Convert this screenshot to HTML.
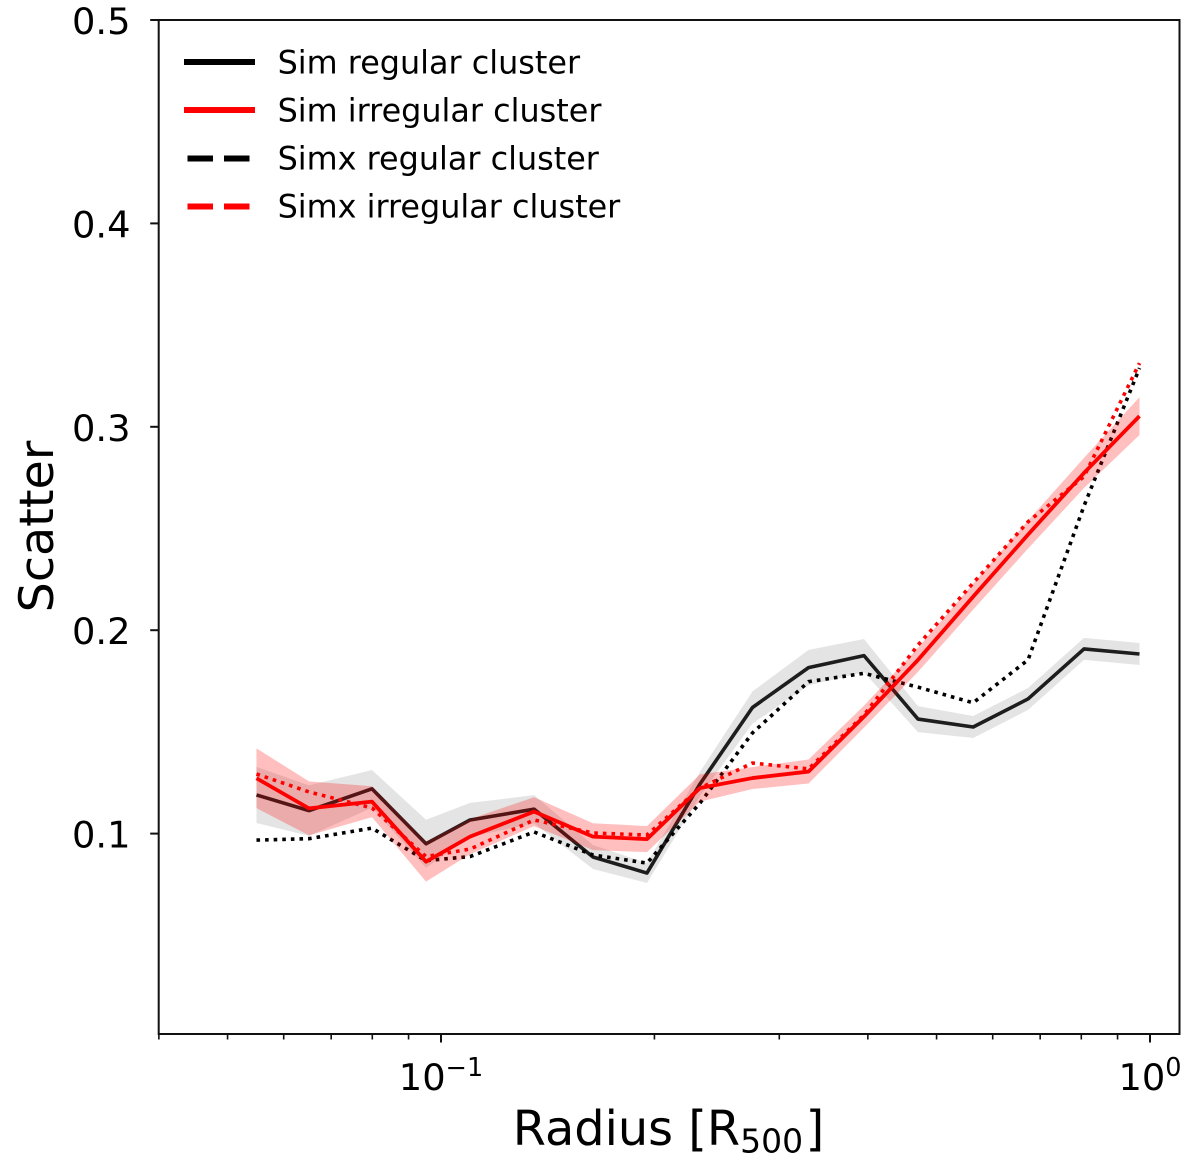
<!DOCTYPE html>
<html>
<head>
<meta charset="utf-8">
<style>
html,body{margin:0;padding:0;background:#fff;}
svg{display:block;font-family:"DejaVu Sans","Liberation Sans",sans-serif;}
</style>
</head>
<body>
<svg id="chart" xmlns="http://www.w3.org/2000/svg" width="1200" height="1166" viewBox="0 0 1200 1166">
  <rect x="0" y="0" width="1200" height="1166" fill="#fff"/>
  <g id="series"></g>
  <g id="axes"></g>
  <text transform="translate(53,526.5) rotate(-90)" text-anchor="middle" font-size="47.6" fill="#000">Scatter</text>
  <text x="512.8" y="1145" font-size="47.8" fill="#000">Radius [R<tspan font-size="33" dy="7.5">500</tspan><tspan dy="-7.5" dx="2.5">]</tspan></text>
  <g>
    <g>
      <line x1="184" x2="255" y1="62" y2="62" stroke="#000" stroke-width="6"/>
      <text x="277.6" y="73.5" font-size="31.85" fill="#000">Sim regular cluster</text>
    </g>
    <g>
      <line x1="184" x2="255" y1="110" y2="110" stroke="#f00" stroke-width="6"/>
      <text x="277.6" y="121.5" font-size="31.85" fill="#000">Sim irregular cluster</text>
    </g>
    <g>
      <line x1="187.5" x2="250" y1="158.5" y2="158.5" stroke="#000" stroke-width="6" stroke-dasharray="25.5 11"/>
      <text x="277.6" y="169.5" font-size="31.85" fill="#000">Simx regular cluster</text>
    </g>
    <g>
      <line x1="187.5" x2="250" y1="206.5" y2="206.5" stroke="#f00" stroke-width="6" stroke-dasharray="25.5 11"/>
      <text x="277.6" y="217.5" font-size="31.85" fill="#000">Simx irregular cluster</text>
    </g>
  </g>
</svg>
<script>
const radius = [0.05492,0.06513,0.07993,0.09525,0.1099,0.1353,0.1638,0.1952,0.2319,0.2750,0.3299,0.3950,0.4707,0.5631,0.6729,0.8071,0.9665];
const simRegular = [0.119,0.1113,0.122,0.095,0.1067,0.112,0.0885,0.0806,0.1244,0.162,0.1816,0.1875,0.1563,0.1524,0.1662,0.1908,0.1883];
const simRegularErr = [0.0138,0.0124,0.0093,0.0118,0.0084,0.0069,0.0059,0.0049,0.006,0.0079,0.0087,0.0082,0.0064,0.0054,0.0054,0.0054,0.0054];
const simIrregular = [0.1272,0.1124,0.1157,0.0862,0.0985,0.1108,0.0985,0.0973,0.1224,0.1273,0.1305,0.1575,0.1854,0.2165,0.247,0.2773,0.3053];
const simIrregularErr = [0.0147,0.0133,0.0076,0.0098,0.0086,0.0071,0.0066,0.0064,0.0067,0.0054,0.0059,0.0054,0.0059,0.0064,0.0069,0.0074,0.0093];
const simxRegular = [0.0968,0.0975,0.1027,0.0867,0.0887,0.1008,0.0895,0.0855,0.115,0.1495,0.1747,0.1788,0.172,0.1643,0.1854,0.2611,0.3289];
const simxIrregular = [0.1293,0.1205,0.1126,0.0887,0.0924,0.1067,0.1003,0.0993,0.1224,0.1347,0.1318,0.1583,0.1927,0.2232,0.2533,0.2755,0.3313];
const yTicks = [0.1,0.2,0.3,0.4,0.5];
const yTickLabels = ["0.1","0.2","0.3","0.4","0.5"];
const xMajorTicks = [0.1,1];
const xMajorExponents = ["\u22121","0"];
const xMinorTicks = [0.04,0.05,0.06,0.07,0.08,0.09,0.2,0.3,0.4,0.5,0.6,0.7,0.8,0.9];

const NS = "http://www.w3.org/2000/svg";
const xScale = r => 441 + 709 * (Math.log10(r) + 1);
const yScale = v => 20 + (0.5 - v) * 2034;
const seriesLayer = document.getElementById("series");
const axesLayer = document.getElementById("axes");

function make(tag, parent, attrs) {
  const el = document.createElementNS(NS, tag);
  for (const k in attrs) el.setAttribute(k, attrs[k]);
  parent.appendChild(el);
  return el;
}
function linePoints(vals) {
  return vals.map((v, i) => xScale(radius[i]).toFixed(2) + "," + yScale(v).toFixed(2)).join(" ");
}
function bandPoints(vals, errs) {
  const up = vals.map((v, i) => xScale(radius[i]).toFixed(2) + "," + yScale(v + errs[i]).toFixed(2));
  const down = vals.map((v, i) => xScale(radius[i]).toFixed(2) + "," + yScale(v - errs[i]).toFixed(2)).reverse();
  return up.concat(down).join(" ");
}
function drawLine(vals, color, width, dash, opacity) {
  const attrs = {points: linePoints(vals), fill: "none", stroke: color, "stroke-width": width, "stroke-opacity": opacity, "stroke-linejoin": "round"};
  if (dash) attrs["stroke-dasharray"] = dash;
  return make("polyline", seriesLayer, attrs);
}
function drawBand(vals, errs, color, opacity) {
  return make("polygon", seriesLayer, {points: bandPoints(vals, errs), fill: color, "fill-opacity": opacity, stroke: "none"});
}

let el;
el = drawLine(simRegular, "#000", 3.6, null, 0.87);


el = drawLine(simxRegular, "#000", 3.6, "3.6 5", 1);


el = drawBand(simRegular, simRegularErr, "#000", 0.105);


el = drawBand(simIrregular, simIrregularErr, "#f00", 0.25);


el = drawLine(simIrregular, "#f00", 3.8, null, 1);


el = drawLine(simxIrregular, "#f00", 3.6, "3.6 5", 1);



const L = 158.7, R = 1179.5, T = 20, B = 1034;
const frame = make("rect", axesLayer, {x: L, y: T, width: R - L, height: B - T, fill: "none", stroke: "#111", "stroke-width": 2});



yTicks.forEach((v, i) => {
  const y = yScale(v);
  const t = make("line", axesLayer, {x1: L - 8.5, x2: L, y1: y, y2: y, stroke: "#111", "stroke-width": 2});
  
  
  const lab = make("text", axesLayer, {x: 130.5, y: y + 14, "text-anchor": "end", "font-size": 36.8, fill: "#000"});
  lab.textContent = yTickLabels[i];
  
  
});
xMinorTicks.forEach(r => {
  const x = xScale(r);
  const t = make("line", axesLayer, {x1: x, x2: x, y1: B, y2: B + 5.5, stroke: "#111", "stroke-width": 1.6});
  
  
});
xMajorTicks.forEach((r, i) => {
  const x = xScale(r);
  const t = make("line", axesLayer, {x1: x, x2: x, y1: B, y2: B + 8.5, stroke: "#111", "stroke-width": 2});
  
  
  const lab = make("text", axesLayer, {x: x, y: 1090, "text-anchor": "middle", "font-size": 36.8, fill: "#000"});
  
  
  const base = make("tspan", lab, {});
  base.textContent = "10";
  const sup = make("tspan", lab, {"font-size": 25.5, dy: -14});
  sup.textContent = xMajorExponents[i];
});
</script>
</body>
</html>
